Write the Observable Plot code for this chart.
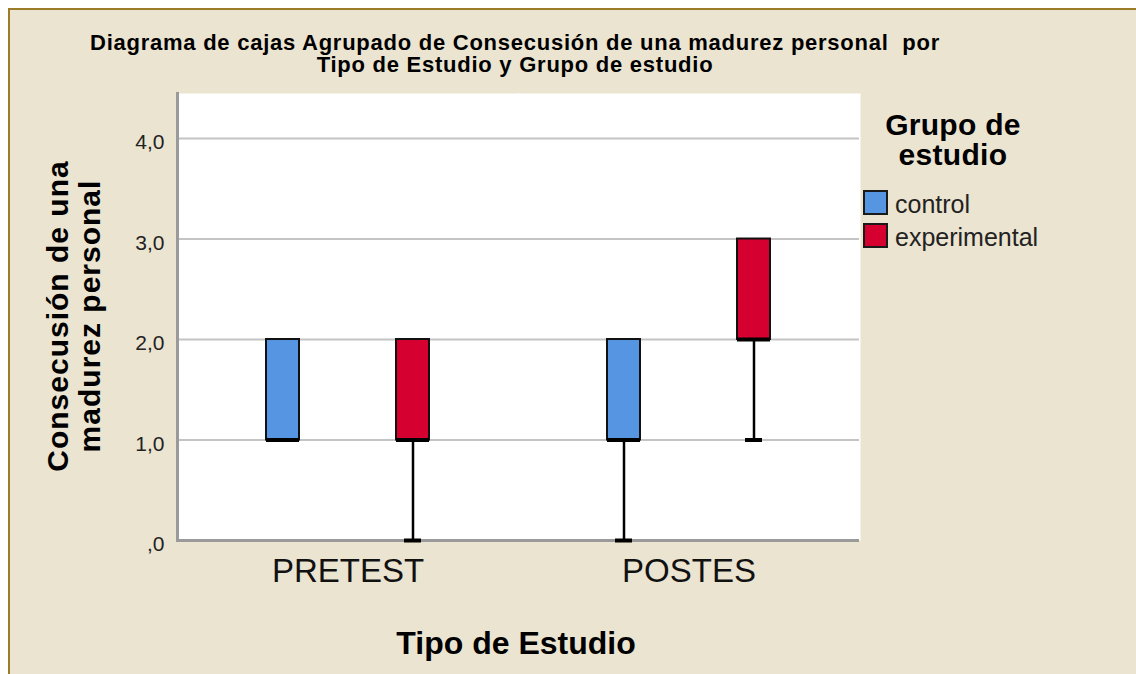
<!DOCTYPE html>
<html>
<head>
<meta charset="utf-8">
<script src="https://cdn.jsdelivr.net/npm/d3@7"></script>
<script src="https://cdn.jsdelivr.net/npm/@observablehq/plot@0.6"></script>
<style>
  html, body { margin: 0; padding: 0; background: #ffffff; }
  #wrap { position: relative; width: 1136px; height: 674px; overflow: hidden; font-family: "Liberation Sans", Arial, sans-serif; color: #000; }
  #panel { position: absolute; left: 8px; top: 8px; width: 1200px; height: 700px; background: #ebe4d0; border-left: 2px solid #9c7c28; border-top: 2px solid #9c7c28; }
  #chart { position: absolute; left: 0; top: 0; }
  .txt { position: absolute; white-space: pre; }
  #title { left: 15px; width: 1000px; top: 32px; text-align: center; font-weight: bold; font-size: 22px; line-height: 22px; letter-spacing: 0.75px; }
  #ytitle { left: -126px; top: 284px; width: 400px; height: 64px; text-align: center; font-weight: bold; font-size: 30px; line-height: 32px; letter-spacing: 1px; transform: rotate(-90deg); }
  #xtitle { left: 316px; width: 400px; top: 627px; text-align: center; font-weight: bold; font-size: 32px; line-height: 32px; }
  #ltitle { left: 853px; width: 200px; top: 110px; text-align: center; font-weight: bold; font-size: 30px; line-height: 30px; letter-spacing: 0.3px; }
  .sw { position: absolute; left: 863px; width: 25px; height: 25px; box-sizing: border-box; border: 2px solid #1a1a1a; }
  .lt { position: absolute; left: 895px; font-size: 25px; line-height: 25px; color: #222; }
</style>
</head>
<body>
<div id="wrap">
  <div id="panel"></div>
  <div id="chart"></div>
  <div class="txt" id="title"></div>
  <div class="txt" id="ytitle"></div>
  <div class="txt" id="xtitle"></div>
  <div class="txt" id="ltitle"></div>
  <div id="legend"></div>
</div>
<script>
// ---- Data ----
const titleLines = ["Diagrama de cajas Agrupado de Consecusión de una madurez personal  por", "Tipo de Estudio y Grupo de estudio"];
const yTitleLines = ["Consecusión de una", "madurez personal"];
const xTitle = "Tipo de Estudio";
const legendTitleLines = ["Grupo de", "estudio"];

const studyTypes = ["PRETEST", "POSTES"];
const groups = ["control", "experimental"];
const groupColors = ["#5595e2", "#d5002f"];

const boxStudy = ["PRETEST", "PRETEST", "POSTES", "POSTES"];
const boxGroup = ["control", "experimental", "control", "experimental"];
const whiskerLow = [1, 0, 0, 1];
const q1 = [1, 1, 1, 2];
const median = [1, 1, 1, 2];
const q3 = [2, 2, 2, 3];
const whiskerHigh = [2, 2, 2, 3];

const yTicks = [0, 1, 2, 3, 4];
const yTickLabels = [",0", "1,0", "2,0", "3,0", "4,0"];
const yMax = 4.448;

// ---- Build table ----
const boxes = boxStudy.map((s, i) => ({
  study: s, group: boxGroup[i], low: whiskerLow[i], q1: q1[i],
  median: median[i], q3: q3[i], high: whiskerHigh[i]
}));

const chart = Plot.plot({
  width: 1136,
  height: 674,
  marginLeft: 177,
  marginRight: 277,
  marginTop: 93,
  marginBottom: 134,
  style: { background: "transparent", fontFamily: "'Liberation Sans', Arial, sans-serif", overflow: "visible" },
  fx: { domain: studyTypes, padding: 0, label: null },
  x: { domain: groups, paddingInner: 0.747, paddingOuter: 0.682, axis: null },
  y: { domain: [0, yMax], axis: null },
  color: { domain: groups, range: groupColors },
  marks: [
    Plot.frame({ fill: "white", stroke: "none", insetLeft: -1, insetRight: -1 }),
    Plot.ruleY(yTicks.slice(1), { stroke: "#c4c4c4", strokeWidth: 2 }),
    Plot.ruleY([0], { stroke: "#9a9a9a", strokeWidth: 3 }),
    Plot.frame({ anchor: "left", stroke: "#9a9a9a", strokeWidth: 3, facetAnchor: "left" }),
    Plot.axisY({
      ticks: yTicks, tickFormat: d => yTickLabels[yTicks.indexOf(d)],
      tickSize: 0, tickPadding: 13, fontSize: 21, dy: 4, label: null, fill: "#222"
    }),
    Plot.axisFx({ anchor: "bottom", tickSize: 0, tickPadding: 18, fontSize: 33, label: null, fill: "#111" }),
    Plot.ruleX(boxes, { fx: "study", x: "group", y1: "low", y2: "q1", stroke: "#000", strokeWidth: 2.5 }),
    Plot.ruleX(boxes, { fx: "study", x: "group", y1: "q3", y2: "high", stroke: "#000", strokeWidth: 2.5 }),
    Plot.tickY(boxes, { fx: "study", x: "group", y: "low", stroke: "#000", strokeWidth: 4, insetLeft: 8, insetRight: 8 }),
    Plot.tickY(boxes, { fx: "study", x: "group", y: "high", stroke: "#000", strokeWidth: 2, insetLeft: 8, insetRight: 8 }),
    Plot.barY(boxes, { fx: "study", x: "group", y1: "q1", y2: "q3", fill: "group", stroke: "#111", strokeWidth: 2 }),
    Plot.tickY(boxes, { fx: "study", x: "group", y: "median", stroke: "#000", strokeWidth: 4 })
  ]
});
document.getElementById("chart").appendChild(chart);

// ---- Texts ----
document.getElementById("title").textContent = titleLines.join("\n");
document.getElementById("ytitle").textContent = yTitleLines.join("\n");
document.getElementById("xtitle").textContent = xTitle;
document.getElementById("ltitle").textContent = legendTitleLines.join("\n");

const legendTops = [190, 223];
const legend = document.getElementById("legend");
groups.forEach((g, i) => {
  const sw = document.createElement("div");
  sw.className = "sw";
  sw.style.top = legendTops[i] + "px";
  sw.style.background = groupColors[i];
  legend.appendChild(sw);
  const t = document.createElement("div");
  t.className = "lt";
  t.style.top = (legendTops[i] + 2) + "px";
  t.textContent = g;
  legend.appendChild(t);
});
</script>
</body>
</html>
